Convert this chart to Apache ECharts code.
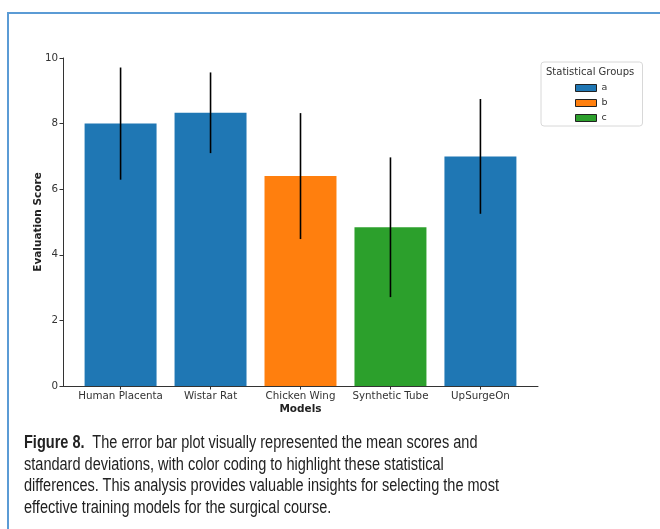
<!DOCTYPE html>
<html>
<head>
<meta charset="utf-8">
<script src="https://cdn.jsdelivr.net/npm/echarts@6/dist/echarts.min.js"></script>
<style>
	body{margin:0;background:#fff;}
	#wrap{position:relative;width:660px;height:529px;overflow:hidden;}
	#frame{position:absolute;left:7px;top:12px;width:700px;height:600px;border-left:2px solid #5b9bd5;border-top:2px solid #5b9bd5;}
	#barDiv{position:absolute;left:0;top:0;width:660px;height:529px;}
	#caption{position:absolute;left:24px;top:432px;width:760px;font-family:'Liberation Sans',Arial,sans-serif;font-size:17.5px;line-height:21.5px;color:#222;transform:scaleX(0.83);transform-origin:0 0;white-space:nowrap;}
	#caption b{font-weight:bold;}
</style>
</head>
<body>
<div id="wrap">
	<div id="frame"></div>
	<div id="barDiv"></div>
	<div id="caption"><b>Figure 8.</b>&nbsp; The error bar plot visually represented the mean scores and<br>standard deviations, with color coding to highlight these statistical<br>differences. This analysis provides valuable insights for selecting the most<br>effective training models for the surgical course.</div>
</div>
<script>
//data
var models = ['Human Placenta', 'Wistar Rat', 'Chicken Wing', 'Synthetic Tube', 'UpSurgeOn'];
var means = [8.0, 8.33, 6.4, 4.84, 7.0];
var sds = [1.71, 1.23, 1.92, 2.13, 1.75];
var groups = ['a', 'a', 'b', 'c', 'a'];
var groupNames = ['a', 'b', 'c'];
var groupColors = ['#1f77b4', '#ff7f0e', '#2ca02c'];
var yTicks = [0, 2, 4, 6, 8, 10];

var fontName = 'DejaVu Sans';

//bar + error line for one model
function renderBar(params, api){
	var x = api.value(0);
	var y = api.value(1);
	var sd = api.value(2);
	var base = api.coord([x, 0]);
	var top = api.coord([x, y]);
	var hi = api.coord([x, y + sd]);
	var lo = api.coord([x, y - sd]);
	var w = api.size([0.8, 0])[0];
	return {
		type: 'group',
		children: [{
			type: 'rect',
			shape: {x: base[0] - w / 2, y: top[1], width: w, height: base[1] - top[1]},
			style: {fill: api.visual('color')}
		}, {
			type: 'line',
			shape: {x1: hi[0], y1: hi[1], x2: lo[0], y2: lo[1]},
			style: {stroke: '#000', lineWidth: 1.6}
		}]
	};
}

var series = [];
for (var g = 0; g < groupNames.length; g++) {
	var rows = [];
	for (var i = 0; i < models.length; i++) {
		if (groups[i] == groupNames[g]) {
			rows.push([i, means[i], sds[i]]);
		}
	}
	series.push({
		name: groupNames[g],
		type: 'custom',
		renderItem: renderBar,
		itemStyle: {color: groupColors[g]},
		encode: {x: 0, y: 1},
		data: rows
	});
}

var option = {
	backgroundColor: 'transparent',
	animation: false,
	textStyle: {fontFamily: fontName},
	title: {
		text: 'Statistical Groups',
		left: 546,
		top: 67,
		z: 10,
		padding: 0,
		textStyle: {fontSize: 10, fontWeight: 'normal', color: '#333', fontFamily: fontName}
	},
	legend: {
		data: groupNames,
		orient: 'vertical',
		left: 541,
		top: 62,
		padding: [21, 35, 3, 34],
		itemWidth: 21,
		itemHeight: 7,
		itemGap: 5,
		icon: 'rect',
		borderColor: '#d8d8d8',
		borderWidth: 1,
		borderRadius: 3,
		backgroundColor: 'rgba(255,255,255,0.8)',
		itemStyle: {borderColor: '#222', borderWidth: 1},
		textStyle: {fontSize: 9.5, color: '#333', fontFamily: fontName}
	},
	grid: {
		left: 63,
		right: 122,
		top: 58,
		bottom: 143
	},
	xAxis: {
		type: 'value',
		min: -0.64,
		max: 4.64,
		name: 'Models',
		nameLocation: 'middle',
		nameMoveOverlap: false,
		nameGap: 18,
		nameTextStyle: {fontSize: 10.5, fontWeight: 'bold', color: '#222', fontFamily: fontName},
		splitLine: {show: false},
		axisLine: {onZero: false, lineStyle: {color: '#333', width: 1}},
		axisTick: {customValues: [0, 1, 2, 3, 4], length: 3.5, lineStyle: {color: '#333'}},
		axisLabel: {
			customValues: [0, 1, 2, 3, 4],
			margin: 5,
			fontSize: 10.3,
			color: '#333',
			formatter: function(v){
				return models[Math.round(v)];
			}
		}
	},
	yAxis: {
		type: 'value',
		min: 0,
		max: 10,
		interval: 2,
		name: 'Evaluation Score',
		nameLocation: 'middle',
		nameMoveOverlap: false,
		nameGap: 19,
		nameTextStyle: {fontSize: 10.5, fontWeight: 'bold', color: '#222', fontFamily: fontName},
		splitLine: {show: false},
		axisLine: {show: true, onZero: false, lineStyle: {color: '#333', width: 1}},
		axisTick: {show: true, length: 3.5, lineStyle: {color: '#333'}},
		axisLabel: {margin: 5, fontSize: 10.3, color: '#333'}
	},
	series: series
};

var myChart = echarts.init(document.getElementById('barDiv'));
myChart.setOption(option);
</script>
</body>
</html>
